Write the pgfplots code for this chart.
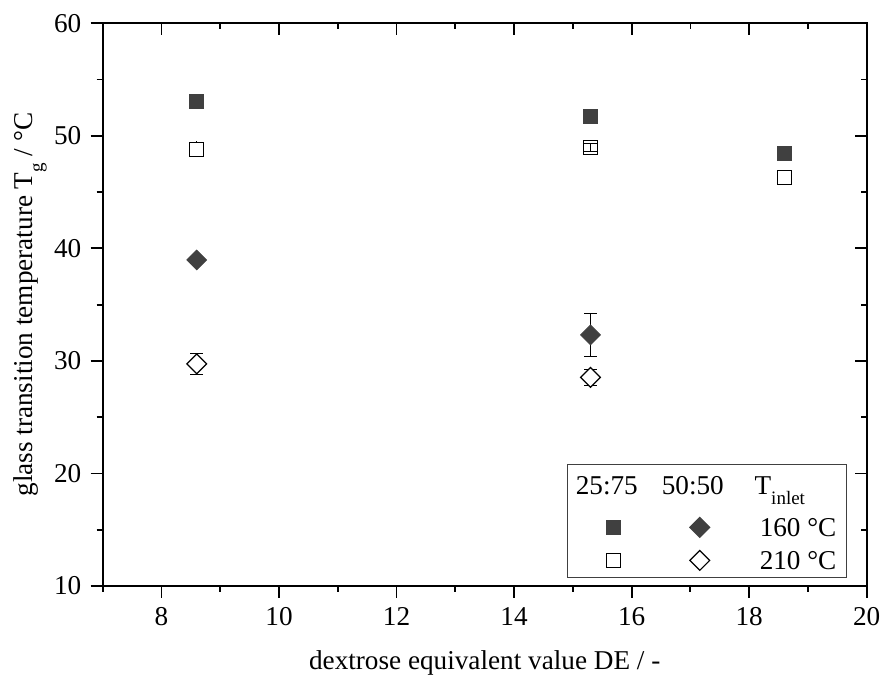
\documentclass[border=0pt]{standalone}
\usepackage{fontspec}
\setmainfont{Liberation Serif}
\usepackage{pgfplots}
\pgfplotsset{compat=1.18}
\definecolor{markgray}{HTML}{404040}
\newcommand{\sub}[1]{\raisebox{-0.38em}{\fontsize{9.5}{10}\selectfont #1}}
\begin{document}
\fontsize{13.6}{16}\selectfont
\begin{tikzpicture}
\pgfplotsset{
  frame/.style={
    at={(0,0)}, anchor=south west,
    scale only axis, width=382pt, height=281.35pt,
    xmin=7, xmax=20, ymin=10, ymax=60,
    xtick={8,10,...,20}, ytick={10,20,...,60},
    minor xtick={7,9,...,19}, minor ytick={15,25,...,55},
    major tick length=6pt, minor tick length=3pt,
    axis line style={line width=1pt},
    every tick/.style={line width=0.9pt, black},
    /pgf/number format/assume math mode=true,
  }
}
\begin{axis}[frame,
  xtick pos=bottom, ytick pos=left, tick align=outside,
  xlabel={dextrose equivalent value DE / -},
  ylabel={glass transition temperature T\sub{g} / °C},
  xlabel style={at={(axis description cs:0.5,0)}, anchor=base, yshift=-42pt},
  ylabel style={at={(axis description cs:-0.095,0.5)}, anchor=center, rotate=0},
  legend columns=3,
  legend style={at={(rel axis cs:1,0)}, anchor=south east, xshift=-9.85pt, yshift=4pt,
    draw=black!75, line width=0.6pt, inner xsep=4pt, inner ysep=1.5pt,
    column sep=0pt, row sep=4.5pt, nodes={inner sep=0pt},
    /tikz/every even column/.append style={column sep=11pt}},
]
% 25:75, 160 C
\addplot[forget plot, only marks, mark=square*, mark size=3.5pt, markgray, mark options={fill=markgray, draw=markgray}]
  coordinates {(8.6,53.03) (15.3,51.76) (18.6,48.47)};
% 25:75, 210 C
\addplot[forget plot, only marks, mark=square*, mark size=3.5pt, black, mark options={fill=white, draw=black, line width=0.6pt},
  error bars/.cd, y dir=both, y explicit, error mark=none,
  error bar style={line width=0.5pt, black}]
  coordinates {(8.6,48.8) +- (0,0.72)};
\addplot[forget plot, only marks, mark=square, mark size=3.5pt, black, mark options={line width=0.6pt},
  error bars/.cd, y dir=both, y explicit,
  error bar style={line width=0.5pt, black}, error mark options={rotate=90, mark size=3.2pt, line width=0.5pt}]
  coordinates {(15.3,48.95) +- (0,0.37)};
\addplot[forget plot, only marks, mark=square*, mark size=3.5pt, black, mark options={fill=white, draw=black, line width=0.6pt}]
  coordinates {(18.6,46.3)};
% 50:50, 160 C
\addplot[forget plot, only marks, mark=square*, mark size=3.5pt, markgray, mark options={rotate=45, fill=markgray, draw=markgray},
  error bars/.cd, y dir=both, y explicit,
  error bar style={line width=0.5pt, black}, error mark options={rotate=90, mark size=3.2pt, line width=0.5pt}]
  coordinates {(8.6,38.97) +- (0,0.3) (15.3,32.31) +- (0,1.88)};
% 50:50, 210 C
\addplot[forget plot, only marks, mark=square*, mark size=3.5pt, black, mark options={rotate=45, fill=white, draw=black, line width=0.6pt},
  error bars/.cd, y dir=both, y explicit,
  error bar style={line width=0.5pt, black}, error mark options={rotate=90, mark size=3.2pt, line width=0.5pt}]
  coordinates {(8.6,29.74) +- (0,0.93) (15.3,28.54) +- (0,0.74)};

% legend
\addlegendimage{legend image code/.code={\node[anchor=base, inner sep=0pt, text height=13.5pt, text depth=7pt] at (-3.5pt,-4.5pt) {25:75};}}
\addlegendentry{}
\addlegendimage{legend image code/.code={\node[anchor=base, inner sep=0pt, text height=13.5pt, text depth=7pt] at (-3.5pt,-4.5pt) {50:50};}}
\addlegendentry{}
\addlegendimage{legend image code/.code={\node[anchor=base west, inner sep=0pt, text height=13.5pt, text depth=7pt] at (-41.5pt,-4.5pt) {T\sub{inlet}};}}
\addlegendentry{}
\addlegendimage{legend image code/.code={\draw[only marks, mark=square*, mark size=3.5pt, markgray, mark options={fill=markgray, draw=markgray}] plot coordinates {(0pt,0pt)};}}
\addlegendentry{}
\addlegendimage{legend image code/.code={\draw[only marks, mark=square*, mark size=3.5pt, markgray, mark options={rotate=45, fill=markgray, draw=markgray}] plot coordinates {(0pt,0pt)};}}
\addlegendentry{}
\addlegendimage{legend image code/.code={\node[anchor=base east, inner sep=0pt, text height=9.5pt, text depth=2.5pt] at (0pt,-4.5pt) {\hspace*{6pt}160 °C};}}
\addlegendentry{}
\addlegendimage{legend image code/.code={\draw[only marks, mark=square, mark size=3.5pt, black, mark options={line width=0.6pt}] plot coordinates {(0pt,0pt)};}}
\addlegendentry{}
\addlegendimage{legend image code/.code={\draw[only marks, mark=square*, mark size=3.5pt, black, mark options={rotate=45, fill=white, draw=black, line width=0.6pt}] plot coordinates {(0pt,0pt)};}}
\addlegendentry{}
\addlegendimage{legend image code/.code={\node[anchor=base east, inner sep=0pt, text height=9.5pt, text depth=2.5pt] at (0pt,-4.5pt) {\hspace*{6pt}210 °C};}}
\addlegendentry{}
\end{axis}
\begin{axis}[frame,
  xtick pos=top, ytick pos=right, tick align=inside,
  xticklabels={}, yticklabels={},
]
\end{axis}
\pgfresetboundingbox
\path (-51.35pt,-46.5pt) rectangle (390.15pt,293pt);
\end{tikzpicture}
\end{document}
